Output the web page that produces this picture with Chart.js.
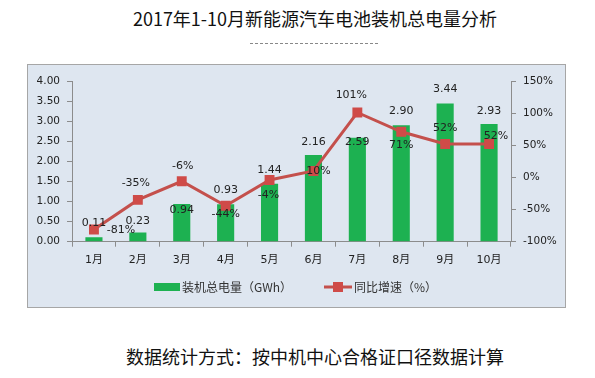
<!DOCTYPE html>
<html lang="zh-CN">
<head>
<meta charset="utf-8">
<title>2017年1-10月新能源汽车电池装机总电量分析</title>
<script src="https://cdn.jsdelivr.net/npm/chart.js@4.4.1/dist/chart.umd.min.js"></script>
<style>
  html, body { margin: 0; padding: 0; background: #fff; }
  body { width: 595px; height: 378px; position: relative; overflow: hidden;
         font-family: 'Noto Sans CJK SC', sans-serif; }
  #title { position: absolute; left: 0; width: 630px; top: 6px; text-align: center;
           font-size: 18px; color: #111; line-height: 24px; }
  #title-rule { position: absolute; left: 250px; width: 128px; top: 43px;
                border-top: 1px dashed #888; }
  #box { position: absolute; left: 27px; top: 64px; width: 539px; height: 244px;
         box-sizing: border-box; border: 1px solid #A6A6A6; background: #DEE6F0; }
  #chart { display: block; }
  #footer { position: absolute; left: 0; width: 630px; top: 344px; text-align: center;
            font-size: 18px; color: #111; line-height: 24px; }
</style>
</head>
<body>
<div id="title">2017年1-10月新能源汽车电池装机总电量分析</div>
<div id="title-rule"></div>
<div id="box"><canvas id="chart" width="537" height="242"></canvas></div>
<div id="footer">数据统计方式：按中机中心合格证口径数据计算</div>

<script>
'use strict';

// ── Datos ──────────────────────────────────────────────────────────────
const months   = ['1月', '2月', '3月', '4月', '5月', '6月', '7月', '8月', '9月', '10月'];
const capacity = [0.11, 0.23, 0.94, 0.93, 1.44, 2.16, 2.59, 2.90, 3.44, 2.93];   // GWh
const growth   = [-81, -35, -6, -44, -4, 10, 101, 71, 52, 52];                   // %

const capacityLabel = '装机总电量（GWh）';
const growthLabel   = '同比增速（%）';

// posiciones de etiquetas (px), como en el original
const barLabelDy  = [-14, -11, 6, -14, -14, -13, 4, -14, -14, -13];
const lineLabelDx = [27, -2, 1, 0, -1, 5, -6, 0, 0, 7];
const lineLabelDy = [1, -17, -15, 8, 15, 0, -17, 13, -16, -8];

// ── Estilos ────────────────────────────────────────────────────────────
const C = {
  green: '#1DB151',
  red:   '#C4504C',
  mark:  '#CF4B48',
  axis:  '#8C8C8C',
  text:  '#222222',
};
const FONT = "'DejaVu Sans', 'Noto Sans CJK SC', sans-serif";

Chart.defaults.font.family = FONT;
Chart.defaults.font.size   = 10.5;
Chart.defaults.color       = C.text;

// ── Plugin: etiquetas de datos y leyenda ───────────────────────────────
const labelsPlugin = {
  id: 'labels',
  afterDatasetsDraw(chart) {
    const ctx = chart.ctx;
    const barMeta  = chart.getDatasetMeta(1);
    const lineMeta = chart.getDatasetMeta(0);
    ctx.save();
    ctx.font = `11px ${FONT}`;
    ctx.fillStyle = C.text;
    ctx.textAlign = 'center';
    ctx.textBaseline = 'middle';
    barMeta.data.forEach((el, i) => {
      ctx.fillText(capacity[i].toFixed(2), el.x, el.y + barLabelDy[i]);
    });
    lineMeta.data.forEach((el, i) => {
      ctx.fillText(growth[i] + '%', el.x + lineLabelDx[i], el.y + lineLabelDy[i]);
    });
    ctx.restore();
  },
  afterDraw(chart) {
    const ctx = chart.ctx;
    const y = 222;
    ctx.save();
    ctx.font = `12px 'Noto Sans CJK SC', sans-serif`;
    ctx.textBaseline = 'middle';
    // serie barras
    ctx.fillStyle = C.green;
    ctx.fillRect(126, y - 4, 26, 8);
    ctx.fillStyle = '#333';
    ctx.fillText(capacityLabel, 154, y);
    // serie línea
    ctx.strokeStyle = C.red;
    ctx.lineWidth = 3;
    ctx.beginPath();
    ctx.moveTo(296, y);
    ctx.lineTo(324, y);
    ctx.stroke();
    ctx.fillStyle = C.mark;
    ctx.fillRect(305, y - 5, 10, 10);
    ctx.fillStyle = '#333';
    ctx.fillText(growthLabel, 326, y);
    ctx.restore();
  },
};

// ── Gráfico ────────────────────────────────────────────────────────────
new Chart(document.getElementById('chart'), {
  type: 'bar',
  data: {
    labels: months,
    datasets: [
      {
        type: 'line',
        label: growthLabel,
        data: growth,
        yAxisID: 'y1',
        borderColor: C.red,
        borderWidth: 3,
        pointStyle: 'rect',
        pointRadius: 7,
        pointBackgroundColor: C.mark,
        pointBorderColor: C.mark,
        pointBorderWidth: 0,
        tension: 0,
        order: 0,
      },
      {
        type: 'bar',
        label: capacityLabel,
        data: capacity,
        yAxisID: 'y',
        backgroundColor: C.green,
        barPercentage: 0.39,
        categoryPercentage: 1,
        order: 1,
      },
    ],
  },
  options: {
    responsive: false,
    animation: false,
    layout: { padding: { top: 16, left: 0, right: 0, bottom: 0 } },
    plugins: {
      legend: { display: false },
      tooltip: { enabled: false },
    },
    scales: {
      x: {
        grid: { drawOnChartArea: false, tickLength: 5, color: C.axis, offset: true },
        border: { color: C.axis },
        ticks: { padding: 7, font: { size: 11 } },
        afterFit(scale) { scale.height = 65.3; },
      },
      y: {
        position: 'left',
        min: 0,
        max: 4,
        ticks: { stepSize: 0.5, padding: 7, callback: v => Number(v).toFixed(2) },
        grid: { drawOnChartArea: false, tickLength: 5, color: C.axis },
        border: { color: C.axis },
        afterFit(scale) { scale.width = 44; },
      },
      y1: {
        position: 'right',
        min: -100,
        max: 150,
        ticks: { stepSize: 50, padding: 7, callback: v => v + '%' },
        grid: { drawOnChartArea: false, tickLength: 5, color: C.axis },
        border: { color: C.axis },
        afterFit(scale) { scale.width = 54; },
      },
    },
  },
  plugins: [labelsPlugin],
});
</script>
</body>
</html>
